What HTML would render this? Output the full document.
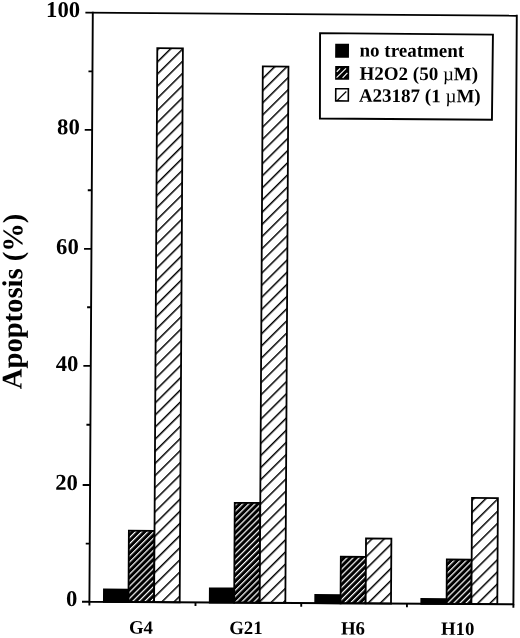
<!DOCTYPE html>
<html><head><meta charset="utf-8"><style>
html,body{margin:0;padding:0;background:#fff;}
svg{display:block;will-change:transform;}
text{font-family:"Liberation Serif",serif;font-weight:bold;fill:#000;}
.yl{font-size:22.6px;text-anchor:end;}
.xl{font-size:18.8px;text-anchor:middle;}
.lg{font-size:19.0px;}
.mu{font-weight:normal;}
.yt{font-size:28.6px;text-anchor:middle;}
</style></head><body>
<svg width="520" height="638" viewBox="0 0 520 638">
<defs><pattern id="lh" patternUnits="userSpaceOnUse" width="8.5934" height="40" patternTransform="rotate(44.940) translate(7.914 0)"><rect width="40" height="40" fill="#fff"/><rect width="1.5" height="40" fill="#000"/></pattern><pattern id="dh" patternUnits="userSpaceOnUse" width="4.3014" height="40" patternTransform="rotate(44.770) translate(2.788 0)"><rect width="40" height="40" fill="#000"/><rect width="1.2" height="40" fill="#fff"/></pattern></defs>
<g transform="rotate(0.33 303.07 308.64)">
<rect x="105.57" y="590.55" width="24.59" height="12.5" fill="#000" stroke="#000" stroke-width="1.8"/>
<rect x="130.16" y="531.66" width="25.64" height="71.39" fill="url(#dh)" stroke="#000" stroke-width="1.8"/>
<rect x="155.8" y="48.97" width="25.6" height="554.08" fill="url(#lh)" stroke="#000" stroke-width="1.8"/>
<rect x="211.46" y="588.84" width="24.4" height="14.21" fill="#000" stroke="#000" stroke-width="1.8"/>
<rect x="235.86" y="503.23" width="25.54" height="99.82" fill="url(#dh)" stroke="#000" stroke-width="1.8"/>
<rect x="261.4" y="66.67" width="25.65" height="536.38" fill="url(#lh)" stroke="#000" stroke-width="1.8"/>
<rect x="316.91" y="594.91" width="25.34" height="8.14" fill="#000" stroke="#000" stroke-width="1.8"/>
<rect x="342.25" y="556.5" width="25.09" height="46.55" fill="url(#dh)" stroke="#000" stroke-width="1.8"/>
<rect x="367.34" y="538.16" width="25.36" height="64.89" fill="url(#lh)" stroke="#000" stroke-width="1.8"/>
<rect x="422.98" y="598.24" width="25.29" height="4.81" fill="#000" stroke="#000" stroke-width="1.8"/>
<rect x="448.27" y="558.69" width="24.84" height="44.36" fill="url(#dh)" stroke="#000" stroke-width="1.8"/>
<rect x="473.11" y="496.95" width="25.89" height="106.1" fill="url(#lh)" stroke="#000" stroke-width="1.8"/>
<path d="M83.7 13.88L515.1 14.48" fill="none" stroke="#000" stroke-width="1.9"/>
<path d="M91.1 12.93V603.05H515.1V13.53" fill="none" stroke="#000" stroke-width="1.9" stroke-linejoin="miter"/>
<path d="M83.7 603.05H91.1M87.1 544.84H91.1M83.7 486.24H91.1M87.1 426.01H91.1M83.7 367.09H91.1M87.1 308.47H91.1M83.7 250.09H91.1M87.1 191.47H91.1M83.7 131.09H91.1M87.1 72.64H91.1M91.1 603.05V606.65M197.2 603.05V606.65M302.95 603.05V606.65M408.65 603.05V606.65M515.1 603.05V606.65" stroke="#000" stroke-width="1.9" fill="none"/>
<text x="79" y="607.3" class="yl">0</text>
<text x="78.9" y="491.25" class="yl">20</text>
<text x="78.7" y="372.45" class="yl">40</text>
<text x="78.4" y="255.36" class="yl">60</text>
<text x="78.7" y="135.66" class="yl">80</text>
<text x="78.3" y="18.46" class="yl">100</text>
<text x="142.85" y="634.55" class="xl">G4</text>
<text x="247.8" y="634.35" class="xl">G21</text>
<text x="354.85" y="634.2" class="xl">H6</text>
<text x="459.55" y="634.05" class="xl">H10</text>
<text transform="translate(22 303) rotate(-90)" class="yt">Apoptosis (%)</text>
<rect x="334.5" y="44.4" width="12.2" height="12.4" fill="#000" stroke="#000" stroke-width="1.6"/>
<rect x="334.6" y="66.6" width="12.4" height="12.2" fill="#000" stroke="#000" stroke-width="1.6"/>
<path d="M335.43 71.51L338.72 68.19" stroke="#fff" stroke-width="1.2"/>
<path d="M335.27 77.41L344.62 68.16" stroke="#fff" stroke-width="1.2"/>
<path d="M341.27 77.58L346.04 72.55" stroke="#fff" stroke-width="1.2"/>
<rect x="334.5" y="88.5" width="12.6" height="12.2" fill="#fff" stroke="#000" stroke-width="1.6"/>
<path d="M335.40 101.01L345.05 91.25" stroke="#000" stroke-width="1.2"/>
<text x="358.1" y="56.2" class="lg">no treatment</text>
<text x="358.2" y="79.4" class="lg">H2O2 (50 <tspan class="mu">µ</tspan>M)</text>
<text x="357.7" y="101.4" class="lg">A23187 (1 <tspan class="mu">µ</tspan>M)</text>
</g>
<path d="M320.07 33.1L492.94 34.57L491.94 119.7L319.92 118.51Z" fill="none" stroke="#000" stroke-width="1.9"/>
</svg>
</body></html>
